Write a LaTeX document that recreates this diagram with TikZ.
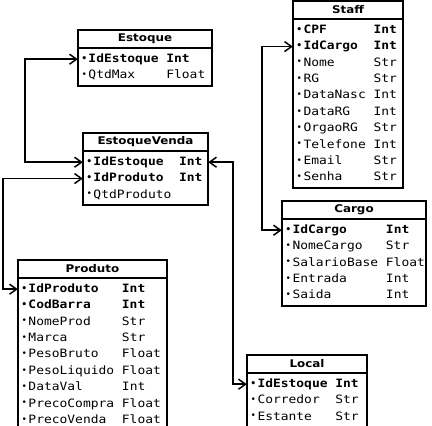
\documentclass[tikz,border=0pt]{standalone}
\usepackage{fontspec}
\usepackage{graphicx}
\usepackage{tikz}
\usetikzlibrary{positioning,arrows.meta}
\newfontfamily\rowfont{DejaVu Sans Mono}
\newfontfamily\headfont{DejaVu Sans}
\newlength\cw
\newcommand{\wide}[1]{\scalebox{1.125}[1]{#1}}
\newcommand{\bul}{\makebox[8.5pt][c]{\raisebox{1.2pt}{\fontsize{9}{9}\selectfont\textbullet}}}
% one row: name padded to #1 characters, then the type
\newcommand{\fld}[3]{\bul\settowidth{\cw}{0}\wide{\makebox[#1\cw][l]{#2}#3}}

\begin{document}
\begin{tikzpicture}[x=1pt, y=-1pt,
  tabhead/.style={draw, line width=1.5pt, inner sep=0pt, outer sep=0pt, minimum height=18pt,
    font=\fontsize{10.6}{12}\selectfont\headfont\bfseries},
  fld/.style={inner xsep=2pt, inner ysep=0pt, minimum height=16pt, text height=8.5pt,
    text depth=2.5pt, align=left, font=\fontsize{11.5}{13}\selectfont\rowfont},
  key/.style={fld, font=\fontsize{11.5}{13}\selectfont\rowfont\bfseries},
  tabbody/.style={line width=1.5pt},
  link/.style={line width=1.5pt,
    {Straight Barb[length=7pt,width=10pt]}-{Straight Barb[length=7pt,width=10pt]}}]
  \useasboundingbox (0,0) rectangle (432,426);

  % Estoque
  \node[tabhead, minimum width=134pt] (est) at (145,39) {\wide{Estoque}};
  \node[key, text width=130pt, below=3pt of est] (est-id) {\fld{10}{IdEstoque}{Int}};
  \node[fld, text width=130pt, below=0pt of est-id] (est-qtd) {\fld{10}{QtdMax}{Float}};
  \draw[tabbody] (est.south west) rectangle ([yshift=-2pt]est-qtd.south east);

  % EstoqueVenda
  \node[tabhead, minimum width=125pt] (ev) at (145.5,142) {\wide{EstoqueVenda}};
  \node[key, text width=121pt, below=3pt of ev] (ev-id) {\fld{11}{IdEstoque}{Int}};
  \node[key, text width=121pt, below=0pt of ev-id] (ev-prod) {\fld{11}{IdProduto}{Int}};
  \node[fld, text width=121pt, below=0pt of ev-prod] (ev-qtd) {\fld{11}{QtdProduto}{}};
  \draw[tabbody] (ev.south west) rectangle ([yshift=-2pt]ev-qtd.south east);

  % Produto
  \node[tabhead, minimum width=149pt] (prod) at (92.5,269) {\wide{Produto}};
  \node[key, text width=145pt, below=3pt of prod] (prod-id) {\fld{12}{IdProduto}{Int}};
  \node[key, text width=145pt, below=0pt of prod-id] (prod-cod) {\fld{12}{CodBarra}{Int}};
  \node[fld, text width=145pt, below=0pt of prod-cod] (prod-nome) {\fld{12}{NomeProd}{Str}};
  \node[fld, text width=145pt, below=0pt of prod-nome] (prod-marca) {\fld{12}{Marca}{Str}};
  \node[fld, text width=145pt, below=0pt of prod-marca] (prod-pb) {\fld{12}{PesoBruto}{Float}};
  \node[fld, text width=145pt, below=0pt of prod-pb] (prod-pl) {\fld{12}{PesoLiquido}{Float}};
  \node[fld, text width=145pt, below=0pt of prod-pl] (prod-val) {\fld{12}{DataVal}{Int}};
  \node[fld, text width=145pt, below=0pt of prod-val] (prod-pc) {\fld{12}{PrecoCompra}{Float}};
  \node[fld, text width=145pt, below=0pt of prod-pc] (prod-pv) {\fld{12}{PrecoVenda}{Float}};
  \draw[tabbody] (prod.south west) rectangle ([yshift=-2pt]prod-pv.south east);

  % Staff
  \node[tabhead, minimum width=110pt] (staff) at (348,10) {\wide{Staff}};
  \node[key, text width=106pt, below=3pt of staff] (staff-cpf) {\fld{9}{CPF}{Int}};
  \node[key, text width=106pt, below=0pt of staff-cpf] (staff-idc) {\fld{9}{IdCargo}{Int}};
  \node[fld, text width=106pt, below=0pt of staff-idc] (staff-nome) {\fld{9}{Nome}{Str}};
  \node[fld, text width=106pt, below=0pt of staff-nome] (staff-rg) {\fld{9}{RG}{Str}};
  \node[fld, text width=106pt, below=0pt of staff-rg] (staff-nasc) {\fld{9}{DataNasc}{Int}};
  \node[fld, text width=106pt, below=0pt of staff-nasc] (staff-drg) {\fld{9}{DataRG}{Int}};
  \node[fld, text width=106pt, below=0pt of staff-drg] (staff-org) {\fld{9}{OrgaoRG}{Str}};
  \node[fld, text width=106pt, below=0pt of staff-org] (staff-tel) {\fld{9}{Telefone}{Int}};
  \node[fld, text width=106pt, below=0pt of staff-tel] (staff-mail) {\fld{9}{Email}{Str}};
  \node[fld, text width=106pt, below=0pt of staff-mail] (staff-pw) {\fld{9}{Senha}{Str}};
  \draw[tabbody] (staff.south west) rectangle ([yshift=-2pt]staff-pw.south east);

  % Cargo
  \node[tabhead, minimum width=144pt] (cargo) at (354,210) {\wide{Cargo}};
  \node[key, text width=140pt, below=3pt of cargo] (cargo-id) {\fld{12}{IdCargo}{Int}};
  \node[fld, text width=140pt, below=0pt of cargo-id] (cargo-nome) {\fld{12}{NomeCargo}{Str}};
  \node[fld, text width=140pt, below=0pt of cargo-nome] (cargo-sal) {\fld{12}{SalarioBase}{Float}};
  \node[fld, text width=140pt, below=0pt of cargo-sal] (cargo-ent) {\fld{12}{Entrada}{Int}};
  \node[fld, text width=140pt, below=0pt of cargo-ent] (cargo-sai) {\fld{12}{Saida}{Int}};
  \draw[tabbody] (cargo.south west) rectangle ([yshift=-2pt]cargo-sai.south east);

  % Local
  \node[tabhead, minimum width=120pt] (loc) at (307,364) {\wide{Local}};
  \node[key, text width=116pt, below=3pt of loc] (loc-id) {\fld{10}{IdEstoque}{Int}};
  \node[fld, text width=116pt, below=0pt of loc-id] (loc-cor) {\fld{10}{Corredor}{Str}};
  \node[fld, text width=116pt, below=0pt of loc-cor] (loc-est) {\fld{10}{Estante}{Str}};
  \draw[tabbody] (loc.south west) rectangle ([yshift=-2pt]loc-est.south east);

  % Relations
  \draw[link] (est-id.west) -- ++(-53,0) |- (ev-id.west);
  \draw[link] (ev-prod.west) -- ++(-80,0) |- (prod-id.west);
  \draw[link] (ev-id.east) -- ++(25,0) |- (loc-id.west);
  \draw[link] (staff-idc.west) -- ++(-31,0) |- (cargo-id.west);
\end{tikzpicture}
\end{document}
